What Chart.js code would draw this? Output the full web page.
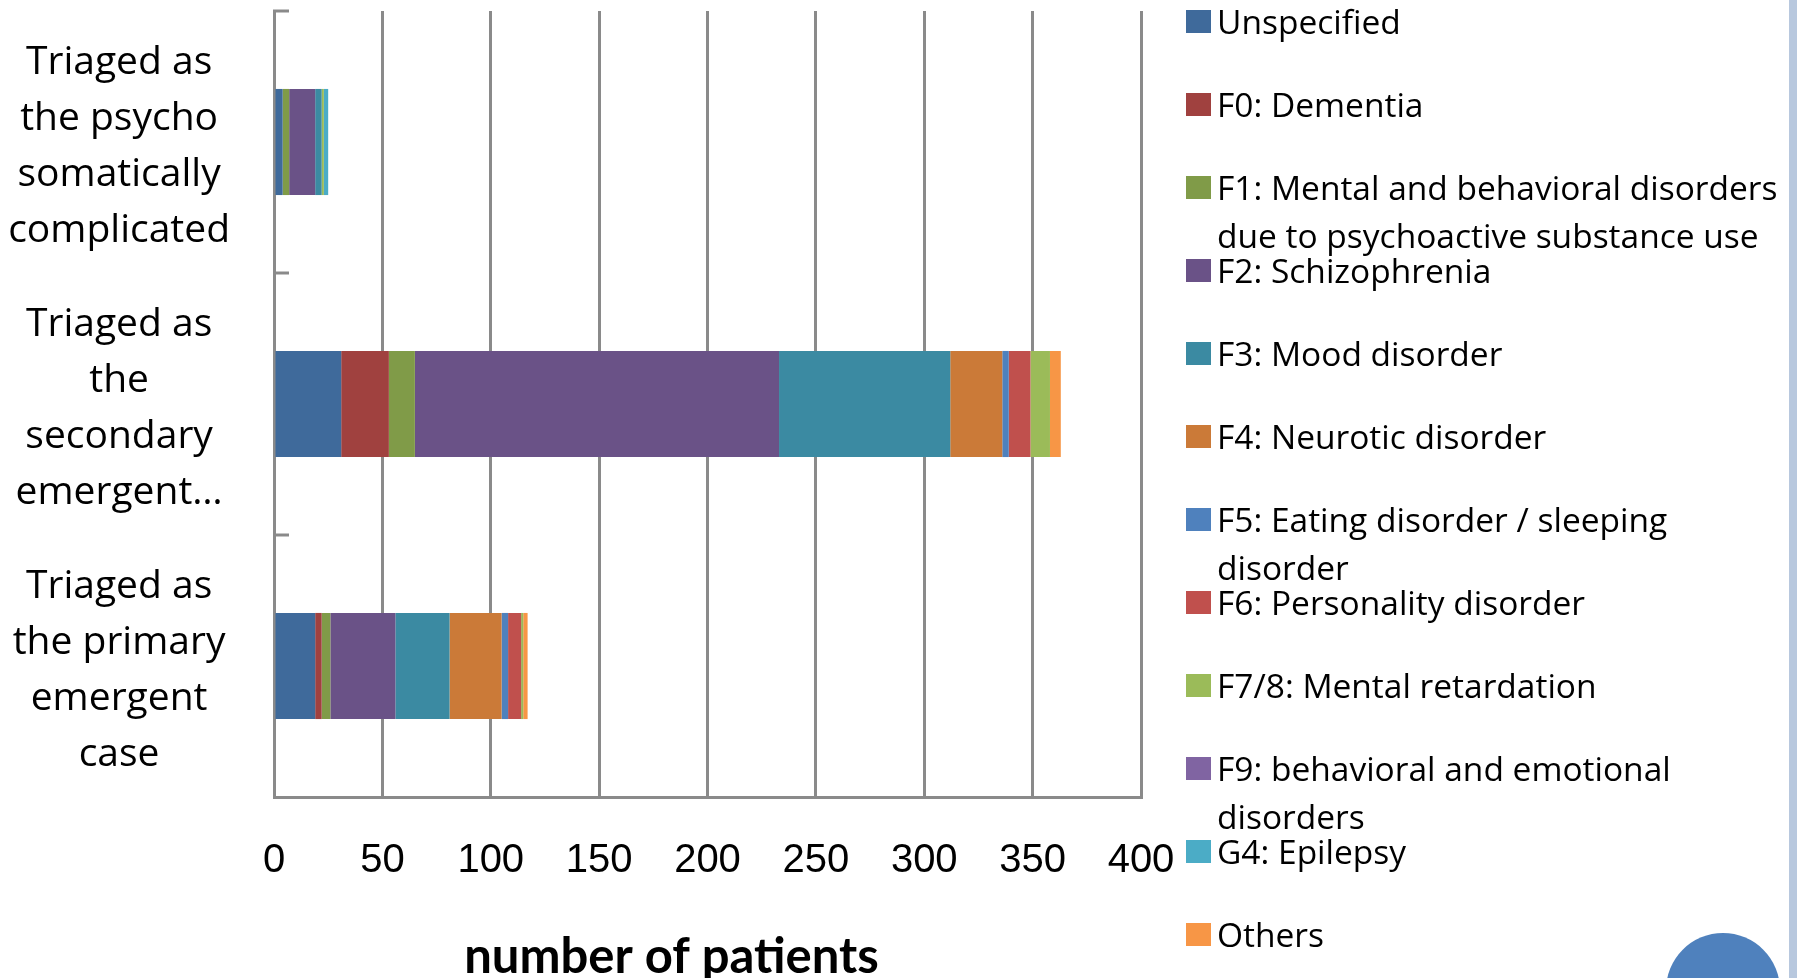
<!DOCTYPE html>
<html>
<head>
<meta charset="utf-8">
<title>Triage category by diagnosis</title>
<script src="https://cdn.jsdelivr.net/npm/chart.js@4.4.1/dist/chart.umd.min.js"></script>
<style>
html, body { margin: 0; padding: 0; background: #fff; width: 1800px; height: 978px; overflow: hidden; }
#wrap { position: absolute; left: 0; top: 0; width: 1200px; height: 984px; }
#legend { position: absolute; left: 1186px; top: -3px; font-family: 'Open Sans', sans-serif; font-size: 33.5px; color: #000; }
#legend .item { position: relative; height: 83px; }
#legend .box { position: absolute; left: 0; top: 13px; width: 25px; height: 23px; }
#legend .txt { position: absolute; left: 31px; top: 0; line-height: 48px; white-space: pre; }
#strip { position: absolute; left: 1789px; top: 0; width: 8px; height: 978px; background: #b8c8de; }
#dot { position: absolute; left: 1666px; top: 933px; width: 114px; height: 114px; border-radius: 50%; background: #4f81bd; }
</style>
</head>
<body>
<div id="wrap"><canvas id="chart"></canvas></div>
<div id="legend"></div>
<div id="strip"></div>
<div id="dot"></div>
<script>
// categories, top to bottom
var categories = [
    ['Triaged as', 'the psycho', 'somatically', 'complicated'],
    ['Triaged as', 'the', 'secondary', 'emergent…'],
    ['Triaged as', 'the primary', 'emergent', 'case']
];

var seriesNames = [
    'Unspecified',
    'F0: Dementia',
    'F1: Mental and behavioral disorders\ndue to psychoactive substance use',
    'F2: Schizophrenia',
    'F3: Mood disorder',
    'F4: Neurotic disorder',
    'F5: Eating disorder / sleeping\ndisorder',
    'F6: Personality disorder',
    'F7/8: Mental retardation',
    'F9: behavioral and emotional\ndisorders',
    'G4: Epilepsy',
    'Others'
];

var seriesColors = ['#3f6a9b', '#a0413f', '#809b48', '#6a5287', '#3b8aa2', '#cb7a38',
                    '#4f81bd', '#c0504d', '#9bbb59', '#8064a2', '#4bacc6', '#f79646'];

// number of patients: [psycho-somatic, secondary, primary]
var unspecified = [4, 31, 19];
var f0 = [0, 22, 3];
var f1 = [3, 12, 4];
var f2 = [12, 168, 30];
var f3 = [3, 79, 25];
var f4 = [0, 24, 24];
var f5 = [0, 3, 3];
var f6 = [0, 10, 6];
var f78 = [1, 9, 1];
var f9 = [0, 0, 0];
var g4 = [2, 0, 0];
var others = [0, 5, 2];

var seriesValues = [unspecified, f0, f1, f2, f3, f4, f5, f6, f78, f9, g4, others];

var xTicks = { min: 0, max: 400, step: 50 };
var xTitle = 'number of patients';

var gridGray = '#8a8a8a';

var datasets = seriesNames.map(function (name, i) {
    return {
        label: name,
        data: seriesValues[i],
        backgroundColor: seriesColors[i],
        borderWidth: 0,
        barPercentage: 0.405,
        categoryPercentage: 1.0
    };
});

// short inside tick marks on the category axis + the x axis title
var extras = {
    id: 'extras',
    afterDraw: function (chart) {
        var x = chart.scales.x, y = chart.scales.y, ctx = chart.ctx, left = chart.chartArea.left;
        var band = (y.bottom - y.top) / categories.length;
        ctx.save();
        ctx.strokeStyle = gridGray;
        ctx.lineWidth = 3;
        for (var i = 0; i < categories.length; i++) {
            var py = y.getPixelForValue(i) - band / 2;
            ctx.beginPath();
            ctx.moveTo(left - 1, py);
            ctx.lineTo(left + 15, py);
            ctx.stroke();
        }
        ctx.fillStyle = '#000';
        ctx.font = 'bold 49px Lato, sans-serif';
        ctx.textAlign = 'center';
        ctx.textBaseline = 'alphabetic';
        ctx.fillText(xTitle, (x.left + x.right) / 2 - 36, x.bottom - 11);
        ctx.restore();
    }
};

function noEdgePadding(s) {
    s.paddingTop = 0;
    s.paddingBottom = 0;
    s.paddingLeft = 0;
    s.paddingRight = 0;
}

var chart = new Chart(document.getElementById('chart'), {
    type: 'bar',
    data: { labels: categories, datasets: datasets },
    options: {
        indexAxis: 'y',
        responsive: true,
        maintainAspectRatio: false,
        animation: false,
        layout: { padding: { top: 11, left: 0, right: 59, bottom: 0 } },
        plugins: {
            legend: { display: false },
            tooltip: { enabled: false }
        },
        scales: {
            x: {
                stacked: true,
                min: xTicks.min,
                max: xTicks.max,
                afterFit: function (s) {
                    noEdgePadding(s);
                    s.height = 187;
                },
                ticks: {
                    stepSize: xTicks.step,
                    padding: 40,
                    maxRotation: 0,
                    color: '#000',
                    font: { family: "'Liberation Sans', sans-serif", size: 40 }
                },
                grid: { color: gridGray, lineWidth: 3, drawTicks: false },
                border: { color: gridGray, width: 3 }
            },
            y: {
                stacked: true,
                afterFit: function (s) {
                    noEdgePadding(s);
                    s.width = 274;
                },
                ticks: {
                    autoSkip: false,
                    color: '#000',
                    crossAlign: 'center',
                    padding: 44,
                    labelOffset: 5,
                    font: { family: "'Open Sans', sans-serif", size: 39, lineHeight: 1.44 }
                },
                grid: { display: false, drawTicks: false },
                border: { color: gridGray, width: 3 }
            }
        }
    },
    plugins: [extras]
});

// legend on the right, built from the datasets
var legend = document.getElementById('legend');
chart.data.datasets.forEach(function (ds) {
    var item = document.createElement('div');
    item.className = 'item';
    var box = document.createElement('div');
    box.className = 'box';
    box.style.background = ds.backgroundColor;
    var txt = document.createElement('div');
    txt.className = 'txt';
    txt.textContent = ds.label;
    item.appendChild(box);
    item.appendChild(txt);
    legend.appendChild(item);
});
</script>
</body>
</html>
